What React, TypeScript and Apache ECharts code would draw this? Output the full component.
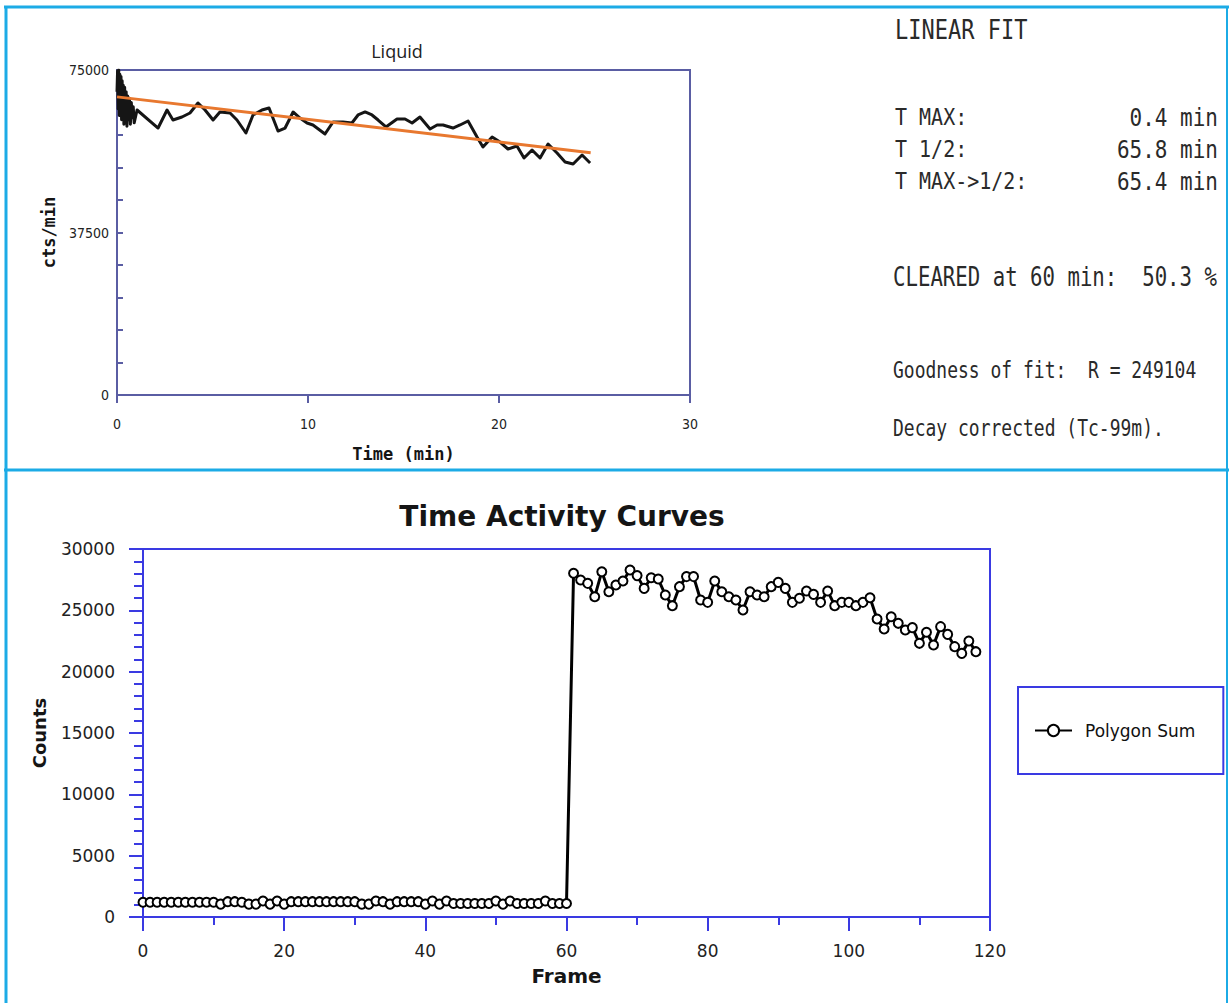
import React, { useEffect, useRef } from "react";
import * as echarts from "echarts";

// ---------- Top chart: Liquid ----------
const liquidTitle = "Liquid";
const liquidXName = "Time (min)";
const liquidYName = "cts/min";
// [time (min), cts/min]
const liquidCurve: [number, number][] = [
  [0, 70000], [0.03, 74800], [0.06, 66000], [0.09, 75000], [0.12, 64500], [0.15, 74000],
  [0.18, 65500], [0.21, 73500], [0.24, 63500], [0.27, 72500], [0.3, 65000], [0.33, 71500],
  [0.36, 62500], [0.4, 71000], [0.44, 64000], [0.48, 70000], [0.52, 62000], [0.56, 69000],
  [0.6, 63500], [0.65, 68500], [0.7, 62500], [0.75, 67500], [0.8, 64000], [0.85, 66500],
  [0.9, 62800], [1.05, 65770], [2.15, 61610], [2.62, 65770], [2.93, 63460], [3.4, 64150],
  [3.82, 65080], [4.24, 67380], [4.61, 65770], [5.03, 63460], [5.39, 65310], [5.92, 65080],
  [6.28, 63460], [6.75, 60460], [7.12, 64620], [7.59, 65770], [7.96, 66230], [8.43, 60920],
  [8.8, 61610], [9.22, 65310], [9.58, 63920], [9.95, 62770], [10.26, 62310], [10.89, 60230],
  [11.31, 63000], [11.83, 63000], [12.3, 62770], [12.62, 64620], [12.99, 65310], [13.35, 64620],
  [13.67, 63460], [14.08, 61850], [14.66, 63690], [15.08, 63690], [15.45, 62770], [15.86, 64150],
  [16.39, 61380], [16.76, 62310], [17.07, 62310], [17.59, 61610], [17.96, 62310], [18.38, 63230],
  [18.85, 59540], [19.16, 57230], [19.64, 59540], [20.05, 58380], [20.47, 56770], [20.94, 57460],
  [21.31, 54690], [21.73, 56540], [22.15, 54690], [22.57, 57920], [23.04, 55850], [23.46, 53770],
  [23.88, 53310], [24.35, 55380], [24.77, 53540],
];
const fitLine: [number, number][] = [[0, 68800], [24.8, 55900]];
const liquidXRange = [0, 30, 10];
const liquidYRange = [0, 75000, 7500];
const liquidYLabelEvery = 37500;

// ---------- Right text panel ----------
const fitHeading = "LINEAR FIT";
const fitLabels = ["T MAX:", "T 1/2:", "T MAX->1/2:"];
const fitValues = ["0.4 min", "65.8 min", "65.4 min"];
const clearedLine = "CLEARED at 60 min:  50.3 %";
const goodnessLine = "Goodness of fit:  R = 249104";
const decayLine = "Decay corrected (Tc-99m).";

// ---------- Bottom chart: Time Activity Curves ----------
const tacTitle = "Time Activity Curves";
const tacXName = "Frame";
const tacYName = "Counts";
const tacSeriesName = "Polygon Sum";
// counts per frame, frames 0..118
const polygonSum = [
  1200, 1200, 1200, 1200, 1200, 1200, 1200, 1200, 1200, 1200,
  1200, 1050, 1250, 1250, 1200, 1050, 1050, 1300, 1050, 1300,
  1050, 1250, 1250, 1250, 1250, 1250, 1250, 1250, 1250, 1250,
  1250, 1050, 1050, 1300, 1250, 1050, 1250, 1250, 1250, 1250,
  1050, 1300, 1050, 1300, 1100, 1100, 1100, 1100, 1100, 1100,
  1300, 1050, 1300, 1100, 1100, 1100, 1100, 1300, 1100, 1100,
  1100, 28020, 27470, 27200, 26110, 28150, 26520, 27060, 27390, 28290,
  27830, 26790, 27660, 27550, 26250, 25380, 26930, 27750, 27750, 25840,
  25650, 27390, 26520, 26110, 25840, 25030, 26520, 26250, 26110, 26930,
  27280, 26790, 25650, 25980, 26580, 26300, 25650, 26580, 25380, 25650,
  25650, 25380, 25650, 26030, 24290, 23480, 24480, 23940, 23400, 23590,
  22310, 23210, 22170, 23670, 23040, 22040, 21490, 22500, 21630,
];
const tacXRange = [0, 120, 20];
const tacYRange = [0, 30000, 5000];

const W = 1229;
const H = 1003;

export default function App() {
  const ref = useRef<HTMLDivElement>(null);
  useEffect(() => {
    document.body.style.margin = "0";
    if (!ref.current) return;
    const chart = echarts.init(ref.current, null, { renderer: "svg" });

    const slate = "#5a5da3";
    const blue = "#3a3ae2";
    const sky = "#1cabe6";
    const mono = "'DejaVu Sans Mono', 'Liberation Mono', monospace";
    const cond = "'DejaVu Sans Condensed', 'Liberation Sans Narrow', 'DejaVu Sans', sans-serif";
    const sans = "'DejaVu Sans', 'Liberation Sans', sans-serif";
    const textColor = "#2a2a2a";

    const tacData = polygonSum.map((v, i) => [i, v]);

    const panelText = (text: string, x: number, y: number, size: number, align: string, sy: number, weight = "normal") => ({
      type: "text",
      x,
      y,
      scaleY: sy,
      style: {
        text,
        fill: textColor,
        fontSize: size,
        fontWeight: weight,
        fontFamily: mono,
        align,
        textAlign: align,
        verticalAlign: "middle",
        textVerticalAlign: "middle",
      },
    });

    const graphics: any[] = [
      // frame lines
      { type: "line", shape: { x1: 4, y1: 7, x2: W, y2: 7 }, style: { stroke: sky, lineWidth: 3 } },
      { type: "line", shape: { x1: 6, y1: 6, x2: 6, y2: H }, style: { stroke: sky, lineWidth: 3 } },
      { type: "line", shape: { x1: 4, y1: 470, x2: W, y2: 470 }, style: { stroke: sky, lineWidth: 3 } },
      { type: "line", shape: { x1: 1227, y1: 6, x2: 1227, y2: H }, style: { stroke: sky, lineWidth: 2 } },
      // titles
      {
        type: "text", x: 397, y: 51,
        style: { text: liquidTitle, fill: "#222", fontSize: 18, fontFamily: "'Open Sans', 'Noto Sans', sans-serif", align: "center", textAlign: "center", verticalAlign: "middle", textVerticalAlign: "middle" },
      },
      {
        type: "text", x: 562, y: 516,
        style: { text: tacTitle, fill: "#151515", fontSize: 28, fontWeight: "bold", fontFamily: sans, align: "center", textAlign: "center", verticalAlign: "middle", textVerticalAlign: "middle" },
      },
      // right panel
      panelText(fitHeading, 895, 30, 22, "left", 1.17),
      ...fitLabels.map((t, i) => panelText(t, 895, 117 + i * 32, 20, "left", 1.18)),
      ...fitValues.map((t, i) => panelText(t, 1218, 117 + i * 32, 21, "right", 1.18)),
      panelText(clearedLine, 893, 277, 20.7, "left", 1.3),
      panelText(goodnessLine, 893, 370, 18, "left", 1.24),
      panelText(decayLine, 893, 428, 18, "left", 1.24),
    ];

    const option: any = {
      animation: false,
      backgroundColor: "#ffffff",
      grid: [
        { left: 117, top: 70, width: 573, height: 325, show: true, borderColor: slate, borderWidth: 2, backgroundColor: "transparent" },
        { left: 143, top: 549, width: 847, height: 368, show: true, borderColor: blue, borderWidth: 2, backgroundColor: "transparent" },
      ],
      xAxis: [
        {
          gridIndex: 0, type: "value", min: liquidXRange[0], max: liquidXRange[1], interval: liquidXRange[2],
          axisLine: { show: true, onZero: false, lineStyle: { color: slate, width: 2 } },
          axisTick: { show: true, length: 8, lineStyle: { color: slate, width: 2 } },
          splitLine: { show: false },
          axisLabel: { margin: 22, fontSize: 14, color: "#222", fontFamily: cond },
          name: liquidXName, nameLocation: "middle", nameGap: 50,
          nameTextStyle: { fontSize: 17, fontWeight: "bold", fontFamily: mono, color: "#151515" },
        },
        {
          gridIndex: 1, type: "value", min: tacXRange[0], max: tacXRange[1], interval: tacXRange[2],
          axisLine: { show: true, onZero: false, lineStyle: { color: blue, width: 2 } },
          axisTick: { show: true, length: 14, lineStyle: { color: blue, width: 2 } },
          minorTick: { show: true, splitNumber: 2, length: 8, lineStyle: { color: blue, width: 2 } },
          splitLine: { show: false },
          minorSplitLine: { show: false },
          axisLabel: { margin: 25, fontSize: 17, color: "#222", fontFamily: sans, formatter: (v: number) => String(v) },
          name: tacXName, nameLocation: "middle", nameGap: 49,
          nameTextStyle: { fontSize: 20, fontWeight: "bold", fontFamily: sans, color: "#151515" },
        },
      ],
      yAxis: [
        {
          gridIndex: 0, type: "value", min: liquidYRange[0], max: liquidYRange[1], interval: liquidYRange[2],
          axisLine: { show: true, onZero: false, lineStyle: { color: slate, width: 2 } },
          axisTick: { show: true, inside: true, length: 6, lineStyle: { color: slate, width: 2 } },
          splitLine: { show: false },
          axisLabel: {
            margin: 8, fontSize: 14, color: "#222", fontFamily: cond,
            formatter: (v: number) => (v % liquidYLabelEvery === 0 ? String(v) : ""),
          },
          name: liquidYName, nameLocation: "middle", nameGap: 60, nameRotate: 90,
          nameTextStyle: { fontSize: 17, fontWeight: "bold", fontFamily: mono, color: "#151515" },
        },
        {
          gridIndex: 1, type: "value", min: tacYRange[0], max: tacYRange[1], interval: tacYRange[2],
          axisLine: { show: true, onZero: false, lineStyle: { color: blue, width: 2 } },
          axisTick: { show: true, length: 14, lineStyle: { color: blue, width: 2 } },
          minorTick: { show: true, splitNumber: 5, length: 9, lineStyle: { color: blue, width: 2 } },
          splitLine: { show: false },
          minorSplitLine: { show: false },
          axisLabel: { margin: 28, fontSize: 17, color: "#222", fontFamily: sans, formatter: (v: number) => String(v) },
          name: tacYName, nameLocation: "middle", nameGap: 95, nameRotate: 90,
          nameTextStyle: { fontSize: 18, fontWeight: "bold", fontFamily: sans, color: "#151515" },
        },
      ],
      legend: {
        data: [tacSeriesName],
        left: 1018, top: 687,
        orient: "vertical",
        borderColor: blue, borderWidth: 2,
        padding: [35, 28, 35, 16],
        itemWidth: 37, itemHeight: 14,
        textStyle: { fontSize: 17, fontFamily: sans, color: "#111", padding: [0, 0, 0, 8] },
      },
      series: [
        {
          name: "Liquid", type: "line", xAxisIndex: 0, yAxisIndex: 0,
          data: liquidCurve, showSymbol: false, symbol: "none",
          lineStyle: { color: "#151515", width: 3, join: "round" },
          z: 2,
        },
        {
          name: "Linear fit", type: "line", xAxisIndex: 0, yAxisIndex: 0,
          data: fitLine, showSymbol: false, symbol: "none",
          lineStyle: { color: "#e8782f", width: 3 },
          z: 3,
        },
        {
          name: tacSeriesName, type: "line", xAxisIndex: 1, yAxisIndex: 1,
          data: tacData, symbol: "emptyCircle", symbolSize: 9, showSymbol: true,
          itemStyle: { color: "#000", borderColor: "#000", borderWidth: 2.8 },
          lineStyle: { color: "#000", width: 3 },
          z: 3,
        },
      ],
      graphic: graphics,
    };
    chart.setOption(option);
    return () => chart.dispose();
  }, []);
  return <div ref={ref} style={{ width: W, height: H }} />;
}
